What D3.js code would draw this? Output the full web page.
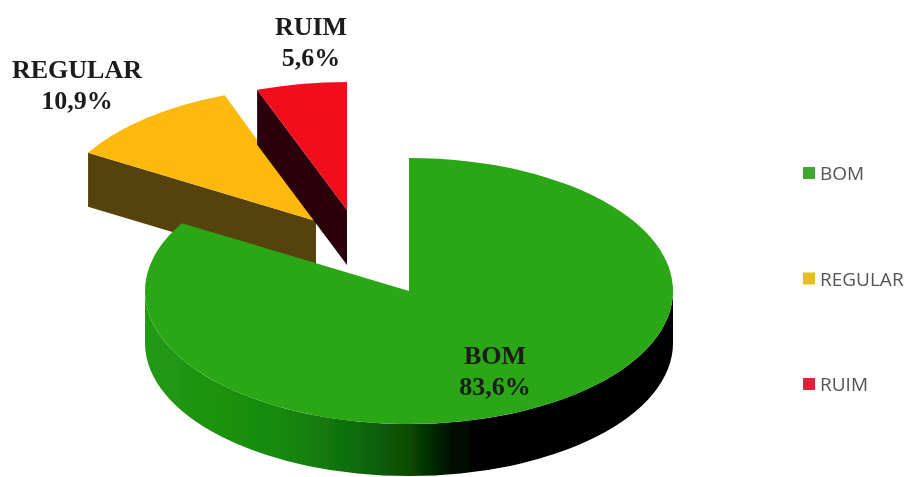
<!DOCTYPE html>
<html>
<head>
<meta charset="utf-8">
<script src="https://d3js.org/d3.v7.min.js"></script>
<style>
html, body { margin: 0; background: #fff; }
svg { display: block; }
</style>
</head>
<body>
<script>
// Data
var categories = ['BOM', 'REGULAR', 'RUIM'];
var values = [83.6, 10.9, 5.6];
var valueLabels = ['83,6%', '10,9%', '5,6%'];

// Layout
var width = 907, height = 477;
var cx = 409, cy = 291;
var rx = [264, 265, 261], ry = [133, 134, 128];
var depth = [52, 54, 55];
var shiftX = [0, -93, -62];
var shiftY = [0, -70, -81];
var topColor = ['#2aa612', '#fdb90a', '#f0101c'];
var sideColor = ['url(#wall)', '#57430e', '#2c0309'];
var swatchColor = ['#3fa733', '#e6bf1c', '#e81f3a'];
var labelPos = [[495, 364], [77, 78], [311, 35]];
var legendY = d3.scalePoint().domain(categories).range([173, 384]);

var svg = d3.select('body').append('svg').attr('width', width).attr('height', height);

var defs = svg.append('defs');
var blur = defs.append('filter').attr('id', 'scan');
blur.append('feGaussianBlur').attr('stdDeviation', 0.7);

var grad = defs.append('linearGradient').attr('id', 'wall')
    .attr('gradientUnits', 'userSpaceOnUse')
    .attr('x1', cx - rx[0]).attr('x2', cx + rx[0]).attr('y1', 0).attr('y2', 0);
[[0, '#239a14'], [0.25, '#178a0c'], [0.4, '#0f6c0a'], [0.5, '#084a05'], [0.58, '#021002'], [0.64, '#000'], [1, '#000']].forEach(function (s) {
    grad.append('stop').attr('offset', s[0]).attr('stop-color', s[1]);
});

var slices = d3.pie().sort(null)(values);
var scene = svg.append('g').attr('filter', 'url(#scan)');

// Point on the rim of a slice, projected on the tilted plane
function rim(i, angle) {
    return [cx + shiftX[i] + rx[i] * Math.sin(angle), cy + shiftY[i] - ry[i] * Math.cos(angle)];
}

// Cut face of a slice, seen through its start or end edge
function cutFace(i, angle) {
    var p = rim(i, angle);
    var a = [cx + shiftX[i], cy + shiftY[i]];
    return d3.line()([a, p, [p[0], p[1] + depth[i]], [a[0], a[1] + depth[i]]]) + 'Z';
}

// Front wall of the big slice, from the right end of the ellipse to the left end
function frontWall(i) {
    var r = rim(i, Math.PI / 2), l = rim(i, Math.PI * 1.5);
    return 'M' + r + 'A' + rx[i] + ',' + ry[i] + ' 0 0 1 ' + l +
        'L' + [l[0], l[1] + depth[i]] +
        'A' + rx[i] + ',' + ry[i] + ' 0 0 0 ' + [r[0], r[1] + depth[i]] + 'Z';
}

function drawTop(i) {
    var arc = d3.arc().innerRadius(0).outerRadius(rx[i]);
    scene.append('path')
        .attr('d', arc(slices[i]))
        .attr('transform', 'translate(' + (cx + shiftX[i]) + ',' + (cy + shiftY[i]) + ') scale(1,' + ry[i] / rx[i] + ')')
        .attr('fill', topColor[i]);
}

// Back to front: the exploded slices first, the big one over them
scene.append('path').attr('d', cutFace(1, slices[1].startAngle)).attr('fill', sideColor[1]);
drawTop(1);
scene.append('path').attr('d', cutFace(2, slices[2].startAngle)).attr('fill', sideColor[2]);
drawTop(2);
scene.append('path').attr('d', frontWall(0)).attr('fill', sideColor[0]);
drawTop(0);

// Data labels
var labels = scene.selectAll('text.lab').data(categories).enter().append('text')
    .attr('class', 'lab')
    .attr('text-anchor', 'middle')
    .attr('font-family', '"Liberation Serif"')
    .attr('font-weight', 'bold')
    .attr('font-size', 26)
    .attr('fill', '#1a1a1a');
labels.append('tspan').attr('x', function (d, i) { return labelPos[i][0]; })
    .attr('y', function (d, i) { return labelPos[i][1]; })
    .text(function (d) { return d; });
labels.append('tspan').attr('x', function (d, i) { return labelPos[i][0]; })
    .attr('y', function (d, i) { return labelPos[i][1] + 31; })
    .text(function (d, i) { return valueLabels[i]; });

// Legend
var legend = scene.selectAll('g.leg').data(categories).enter().append('g')
    .attr('class', 'leg')
    .attr('transform', function (d) { return 'translate(803,' + legendY(d) + ')'; });
legend.append('rect').attr('x', 0).attr('y', -6).attr('width', 12).attr('height', 12)
    .attr('fill', function (d, i) { return swatchColor[i]; });
legend.append('text').attr('x', 17).attr('y', 7)
    .attr('font-family', '"Open Sans"')
    .attr('font-size', 19)
    .attr('fill', '#555')
    .text(function (d) { return d; });
</script>
</body>
</html>
